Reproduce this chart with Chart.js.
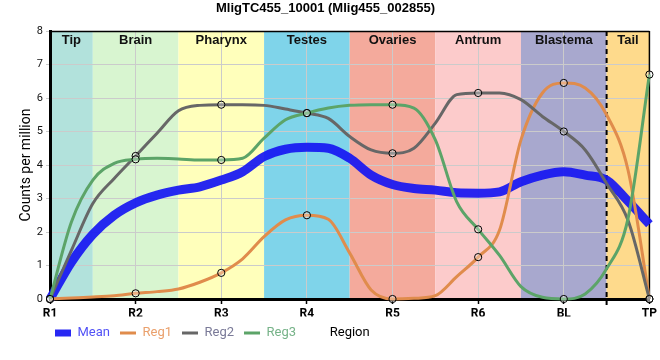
<!DOCTYPE html>
<html><head><meta charset="utf-8">
<script src="https://cdn.jsdelivr.net/npm/chart.js@4/dist/chart.umd.min.js"></script>
<style>html,body{margin:0;padding:0;background:#fff}canvas{display:block}</style>
</head><body>
<canvas id="c" width="660" height="360"></canvas>
<script>
// ---- data ----
const categories = ['R1','R2','R3','R4','R5','R6','BL','TP'];
const regionNames = ['Tip','Brain','Pharynx','Testes','Ovaries','Antrum','Blastema','Tail'];
const seriesNames = ['Mean','Reg1','Reg2','Reg3'];
// curve readings every quarter step along the category axis (0 = R1 ... 7 = TP)
const samplePos = [0,0.25,0.5,0.75,1,1.25,1.5,1.75,2,2.25,2.5,2.75,3,3.25,3.5,3.75,4,4.25,4.5,4.75,5,5.25,5.5,5.75,6,6.25,6.5,6.75,7];
const meanVals = [0,1.1,1.93,2.5,2.87,3.1,3.25,3.35,3.55,3.8,4.25,4.47,4.53,4.5,4.2,3.7,3.42,3.3,3.25,3.17,3.16,3.2,3.5,3.7,3.8,3.7,3.55,2.92,2.23];
const reg1Vals = [0,0.03,0.06,0.1,0.17,0.22,0.3,0.5,0.78,1.2,1.86,2.36,2.5,2.38,1.37,0.27,0,0.02,0.1,0.67,1.25,2.06,4.75,6.15,6.45,6.3,5.5,3.85,0];
const reg2Vals = [0,1.45,2.85,3.6,4.27,4.95,5.62,5.78,5.8,5.8,5.78,5.67,5.55,5.39,4.85,4.45,4.35,4.5,5.25,6.1,6.15,6.15,5.95,5.45,5.0,4.45,3.45,2.35,0];
const reg3Vals = [0,2.3,3.55,4.05,4.17,4.2,4.18,4.15,4.15,4.2,4.8,5.35,5.55,5.7,5.78,5.8,5.8,5.7,4.75,2.9,2.08,1.3,0.37,0.05,0,0.15,0.9,2.4,6.7];
const yTicks = [0,1,2,3,4,5,6,7,8];

// ---- styles ----
const lineColors = ['rgba(22,22,242,0.92)','#e08c4c','#676767','#5ca468'];
const legendTextColors = ['#5252f6','#eaa06c','#7a7a98','#77b389'];
const lineWidths = [9,3,3,3];
const bandColors = ['#b2e2dc','#d8f5d0','#ffffbb','#7fd4ea','#f4aa9c','#fccbcb','#a8a8ce','#feda8c'];

function pts(vals){ return samplePos.map((p,i)=>({x:p,y:vals[i]})); }
const allVals = [meanVals, reg1Vals, reg2Vals, reg3Vals];

const datasets = seriesNames.map((name,i)=>({
  label: name,
  data: pts(allVals[i]),
  borderColor: lineColors[i],
  backgroundColor: lineColors[i],
  borderWidth: lineWidths[i],
  cubicInterpolationMode: 'monotone',
  fill: false,
  clip: false,
  order: 3 - i,
  pointRadius: i === 0 ? 0 : (c => Number.isInteger(c.raw.x) ? 3.6 : 0),
  pointHoverRadius: 0,
  pointBorderWidth: 1,
  pointBorderColor: '#000',
  pointBackgroundColor: 'rgba(255,255,255,0.3)'
}));

const lastIdx = categories.length - 1;

const bandsPlugin = {
  id: 'bands',
  afterLayout(chart){
    chart.legend.left += 45;
  },
  beforeDraw(chart){
    const {ctx, chartArea:a, scales:{x}} = chart;
    ctx.save();
    regionNames.forEach((n,i)=>{
      const x0 = x.getPixelForValue(Math.max(0, i-0.5));
      const x1 = x.getPixelForValue(Math.min(lastIdx, i+0.5));
      ctx.fillStyle = bandColors[i];
      ctx.fillRect(x0, a.top, x1-x0, a.bottom-a.top);
    });
    ctx.restore();
  },
  beforeDatasetsDraw(chart){
    const {ctx, chartArea:a, scales:{x}} = chart;
    ctx.save();
    // top and right frame
    ctx.strokeStyle = '#000';
    ctx.lineWidth = 1.5;
    ctx.beginPath();
    ctx.moveTo(a.left, a.top+0.5); ctx.lineTo(a.right, a.top+0.5);
    ctx.moveTo(a.right, a.top); ctx.lineTo(a.right, a.bottom);
    ctx.stroke();
    // region labels
    ctx.fillStyle = '#111';
    ctx.font = 'bold 13px "Liberation Sans", Arial, sans-serif';
    ctx.textAlign = 'center';
    ctx.textBaseline = 'middle';
    regionNames.forEach((n,i)=>{
      const x0 = x.getPixelForValue(Math.max(0, i-0.5));
      const x1 = x.getPixelForValue(Math.min(lastIdx, i+0.5));
      ctx.fillText(n, (x0+x1)/2, a.top+9);
    });
    // dashed separator before the tail
    const xd = x.getPixelForValue(lastIdx-0.5);
    ctx.setLineDash([5,4]);
    ctx.lineWidth = 2;
    ctx.beginPath();
    ctx.moveTo(xd, a.top); ctx.lineTo(xd, a.bottom+6);
    ctx.stroke();
    ctx.restore();
  },
  afterDraw(chart){
    const {ctx, chartArea:a} = chart;
    const hb = chart.legend.legendHitBoxes[0];
    const y = hb ? hb.top + hb.height/2 : a.bottom+32;
    ctx.save();
    ctx.fillStyle = '#000';
    ctx.font = '13px Roboto, "Liberation Sans", sans-serif';
    ctx.textAlign = 'center';
    ctx.textBaseline = 'middle';
    ctx.fillText('Region', (a.left+a.right)/2, y);
    ctx.restore();
  }
};

new Chart(document.getElementById('c'), {
  type: 'line',
  data: { datasets },
  options: {
    responsive: false,
    animation: false,
    devicePixelRatio: 1,
    layout: { padding: { left: 0, right: 9, top: 0, bottom: 10.5 } },
    plugins: {
      tooltip: { enabled: false },
      title: {
        display: true,
        text: 'MligTC455_10001 (Mlig455_002855)',
        color: '#000',
        font: { family: '"Liberation Sans", Arial, sans-serif', size: 13, weight: 'bold' },
        padding: { top: 1, bottom: 14.4 }
      },
      legend: {
        display: true,
        position: 'bottom',
        align: 'start',
        labels: {
          usePointStyle: true,
          pointStyleWidth: 16,
          boxHeight: 7,
          padding: 10,
          font: { family: 'Roboto, sans-serif', size: 13 },
          generateLabels: (chart) => chart.data.datasets.map((ds,i)=>({
            text: ds.label,
            fillStyle: lineColors[i],
            strokeStyle: lineColors[i],
            lineWidth: i === 0 ? 0 : 3,
            pointStyle: i === 0 ? 'rect' : 'line',
            fontColor: legendTextColors[i],
            hidden: false,
            datasetIndex: i
          }))
        }
      }
    },
    scales: {
      x: {
        type: 'linear',
        min: 0, max: lastIdx,
        afterFit: (s) => { s.height = 17.5; },
        afterBuildTicks: (s) => { s.ticks = categories.map((c,i)=>({value:i})); },
        ticks: {
          autoSkip: false,
          maxRotation: 0,
          padding: 3,
          color: '#000',
          font: { family: 'Roboto, sans-serif', size: 12, weight: 'bold' },
          callback: (v) => categories[v]
        },
        grid: { color: '#cbcbcb', lineWidth: 1, tickLength: 5, tickColor: '#000', tickWidth: 1.5 },
        border: { display: true, color: '#000', width: 3 }
      },
      y: {
        min: 0, max: 8,
        afterFit: (s) => { s.width = 50; },
        afterBuildTicks: (s) => { s.ticks = yTicks.map(v=>({value:v})); },
        ticks: {
          padding: 3,
          color: '#111',
          font: { family: 'Roboto, sans-serif', size: 11 },
          callback: (v) => String(v)
        },
        grid: { color: '#cbcbcb', lineWidth: 1, tickLength: 4 },
        border: { display: true, color: '#000', width: 3 },
        title: {
          display: true,
          text: 'Counts per million',
          color: '#000',
          font: { family: 'Roboto, sans-serif', size: 14 },
          padding: { top: 18, bottom: 0 }
        }
      }
    }
  },
  plugins: [bandsPlugin]
});
</script>
</body></html>
